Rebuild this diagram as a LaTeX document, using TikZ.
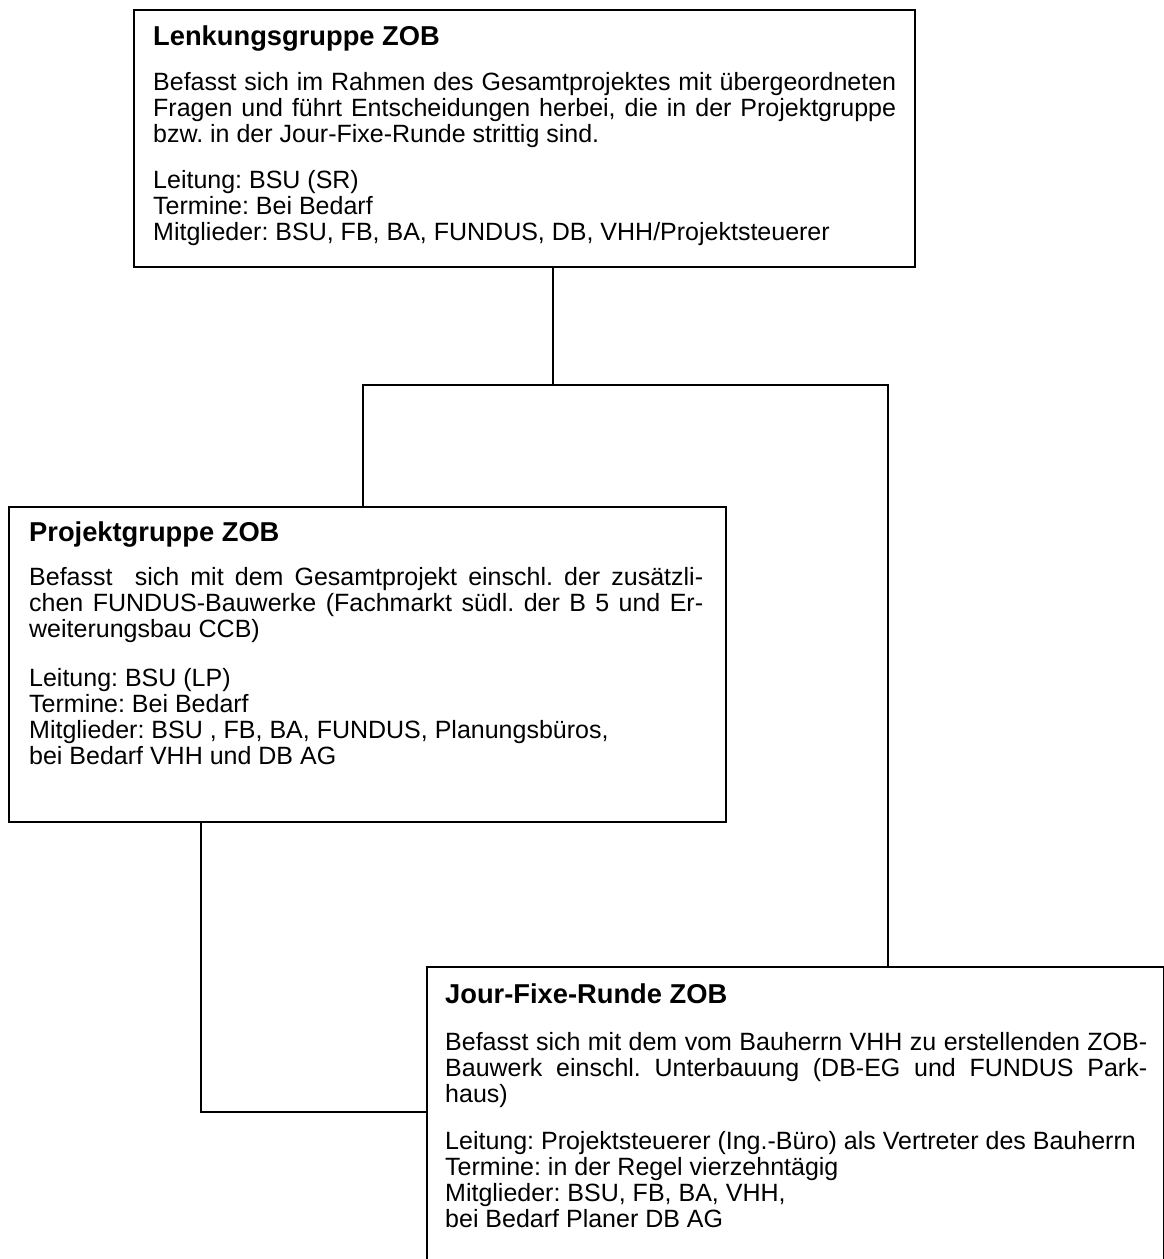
\documentclass[tikz,border=0pt]{standalone}
\usepackage{fontspec}
\setmainfont{Liberation Sans}
\frenchspacing
\begin{document}
\begin{tikzpicture}[x=1pt,y=-1pt,
  box/.style={draw, line width=1.8pt, anchor=north west, inner sep=0pt, outer sep=0pt},
  conn/.style={line width=1.8pt},
  txt/.style={anchor=base west, inner sep=0pt, font=\fontsize{25}{26}\selectfont},
  head/.style={anchor=base west, inner sep=0pt, font=\fontsize{27.3}{28}\selectfont\bfseries}]
\useasboundingbox (0,0) rectangle (1164,1259);
\clip (0,0) rectangle (1164,1259);
% boxes
\node[box, minimum width=781pt, minimum height=257pt] (b1) at (134,10) {};
\node[box, minimum width=717pt, minimum height=315pt] (b2) at (9,507) {};
\node[box, minimum width=737pt, minimum height=400pt] (b3) at (427,967) {};
% box 1 text
\node[head] (h1) at (153,45) {Lenkungsgruppe ZOB};
\node[txt] (a1) at (153,90) {\makebox[743pt][s]{Befasst sich im Rahmen des Gesamtprojektes mit übergeordneten}};
\node[txt] (a2) at (153,116) {\makebox[743pt][s]{Fragen und führt Entscheidungen herbei, die in der Projektgruppe}};
\node[txt] (a3) at (153,142) {bzw. in der Jour-Fixe-Runde strittig sind.};
\node[txt] (a4) at (153,188) {Leitung: BSU (SR)};
\node[txt] (a5) at (153,214) {Termine: Bei Bedarf};
\node[txt] (a6) at (153,240) {Mitglieder: BSU, FB, BA, FUNDUS, DB, VHH/Projektsteuerer};
% box 2 text
\node[head] (h2) at (29,541) {Projektgruppe ZOB};
\node[txt] (p1) at (29,585) {\makebox[674pt][s]{Befasst \ sich mit dem Gesamtprojekt einschl. der zusätzli-}};
\node[txt] (p2) at (29,611) {\makebox[674pt][s]{chen FUNDUS-Bauwerke (Fachmarkt südl. der B 5 und Er-}};
\node[txt] (p3) at (29,637) {weiterungsbau CCB)};
\node[txt] (p4) at (29,686) {Leitung: BSU (LP)};
\node[txt] (p5) at (29,712) {Termine: Bei Bedarf};
\node[txt] (p6) at (29,738) {Mitglieder: BSU , FB, BA, FUNDUS, Planungsbüros,};
\node[txt] (p7) at (29,764) {bei Bedarf VHH und DB AG};
% box 3 text
\node[head] (h3) at (445,1003) {Jour-Fixe-Runde ZOB};
\node[txt] (r1) at (445,1050) {\makebox[702pt][s]{Befasst sich mit dem vom Bauherrn VHH zu erstellenden ZOB-}};
\node[txt] (r2) at (445,1076) {\makebox[702pt][s]{Bauwerk einschl. Unterbauung (DB-EG und FUNDUS Park-}};
\node[txt] (r3) at (445,1102) {haus)};
\node[txt] (r4) at (445,1149) {Leitung: Projektsteuerer (Ing.-Büro) als Vertreter des Bauherrn};
\node[txt] (r5) at (445,1175) {Termine: in der Regel vierzehntägig};
\node[txt] (r6) at (445,1201) {Mitglieder: BSU, FB, BA, VHH,};
\node[txt] (r7) at (445,1227) {bei Bedarf Planer DB AG};
% connectors
\coordinate (j) at (553,385);
\coordinate (jl) at (363,385);
\coordinate (jr) at (888,385);
\coordinate (k) at (201,1112);
\draw[conn] (b1.south -| j) -- (j);
\draw[conn] (jl |- b2.north) -- (jl) -- (jr) -- (jr |- b3.north);
\draw[conn] (b2.south -| k) -- (k) -- (k -| b3.west);
\end{tikzpicture}
\end{document}
